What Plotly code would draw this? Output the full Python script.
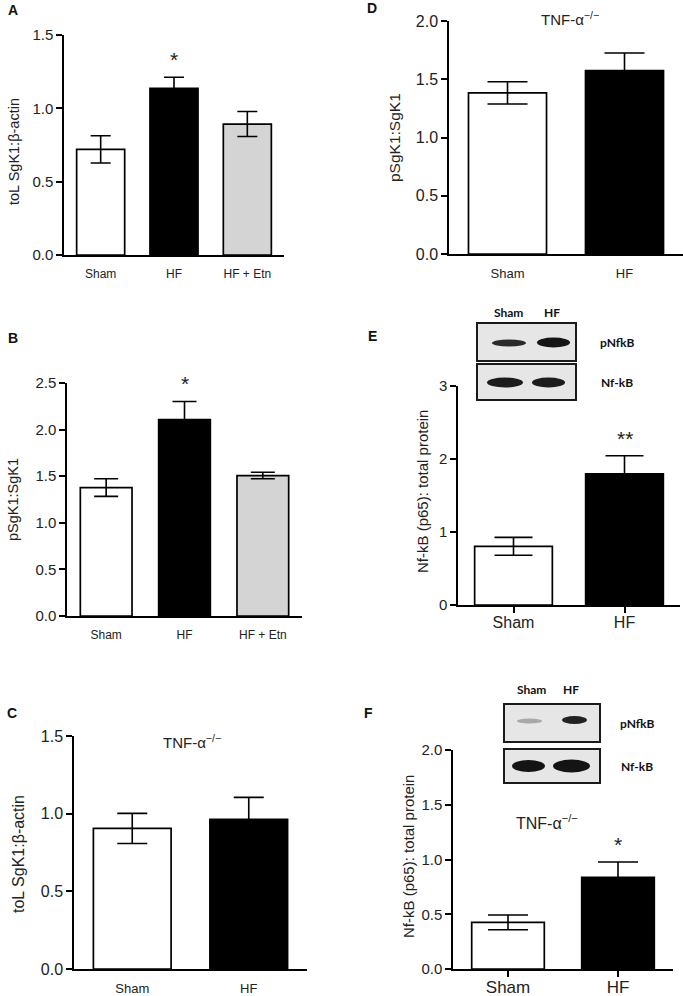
import plotly.graph_objects as go

# ---------------- data ----------------
cats3 = ["Sham", "HF", "HF + Etn"]
cats2 = ["Sham", "HF"]
colors3 = ["white", "black", "#d4d4d4"]
colors2 = ["white", "black"]

a_vals = [0.72, 1.137, 0.893]
a_err = [0.093, 0.075, 0.085]
b_vals = [1.378, 2.107, 1.507]
b_err = [0.095, 0.195, 0.035]
c_vals = [0.905, 0.963]
c_err = [0.097, 0.142]
d_vals = [1.383, 1.575]
d_err = [0.095, 0.15]
e_vals = [0.804, 1.795]
e_err = [0.123, 0.25]
f_vals = [0.426, 0.837]
f_err = [0.067, 0.14]

a_sig = ["", "*", ""]
b_sig = ["", "*", ""]
e_sig = ["", "**"]
f_sig = ["", "*"]

W, H = 683, 996
FONT = "Liberation Sans, Arial, sans-serif"


def px(x):
    return x / W


def py(y):
    return 1 - y / H


# panel geometry in pixels: (x_left, x_right, y_bottom, y_top)
panels = [
    dict(name="A", cats=cats3, vals=a_vals, err=a_err, colors=colors3, sig=a_sig,
         box=(64, 284, 255, 35), rng=1.5, dtick=0.5, fmt=".1f", capw=10, bw=0.655,
         xfs=12, yfs=15, xticks=False, title=None, ttl_pos=None,
         ylab="toL SgK1:β-actin", ylab_pos=(14, 152), ylab_fs=14.5, letter_pos=(13, 10)),
    dict(name="B", cats=cats3, vals=b_vals, err=b_err, colors=colors3, sig=b_sig,
         box=(67, 302, 616, 383), rng=2.5, dtick=0.5, fmt=".1f", capw=12, bw=0.66,
         xfs=12, yfs=15, xticks=False, title=None, ttl_pos=None,
         ylab="pSgK1:SgK1", ylab_pos=(13, 500), ylab_fs=14.5, letter_pos=(13, 338)),
    dict(name="C", cats=cats2, vals=c_vals, err=c_err, colors=colors2, sig=["", ""],
         box=(74, 307, 969, 736), rng=1.5, dtick=0.5, fmt=".1f", capw=15, bw=0.667,
         xfs=13, yfs=16, xticks=False, title="TNF-α<sup>−/−</sup>", ttl_pos=(192, 741), ttl_fs=15,
         ylab="toL SgK1:β-actin", ylab_pos=(18, 854), ylab_fs=16, letter_pos=(12, 713)),
    dict(name="D", cats=cats2, vals=d_vals, err=d_err, colors=colors2, sig=["", ""],
         box=(449, 683, 254, 21), rng=2.0, dtick=0.5, fmt=".1f", capw=20, bw=0.667,
         xfs=13, yfs=16, xticks=False, title="TNF-α<sup>−/−</sup>", ttl_pos=(570, 18), ttl_fs=15,
         ylab="pSgK1:SgK1", ylab_pos=(395, 138), ylab_fs=15.5, letter_pos=(372, 8)),
    dict(name="E", cats=cats2, vals=e_vals, err=e_err, colors=colors2, sig=e_sig,
         box=(458, 680, 605, 386), rng=3.0, dtick=1, fmt="d", capw=19, bw=0.70,
         xfs=16, yfs=15, xticks=True, title=None, ttl_pos=None,
         ylab="Nf-kB (p65): total protein", ylab_pos=(423, 492), ylab_fs=15, letter_pos=(372, 336)),
    dict(name="F", cats=cats2, vals=f_vals, err=f_err, colors=colors2, sig=f_sig,
         box=(453, 673, 969, 750), rng=2.0, dtick=0.5, fmt=".1f", capw=20, bw=0.66,
         xfs=17, yfs=15, xticks=True, title="TNF-α<sup>−/−</sup>", ttl_pos=(547, 822), ttl_fs=16,
         ylab="Nf-kB (p65): total protein", ylab_pos=(408, 857), ylab_fs=15, letter_pos=(368, 713)),
]

fig = go.Figure()
annotations = []
shapes = []


def paper_text(x, y, text, size, family=FONT, color="#222", angle=0):
    annotations.append(dict(x=px(x), y=py(y), xref="paper", yref="paper", text=text,
                            textangle=angle, showarrow=False, xanchor="center",
                            yanchor="middle", font=dict(family=family, size=size, color=color)))


for i, p in enumerate(panels):
    k = "" if i == 0 else str(i + 1)
    xa, ya = "x" + k, "y" + k
    x0, x1, yb, yt = p["box"]
    fig.add_trace(go.Bar(
        x=p["cats"], y=p["vals"], xaxis=xa, yaxis=ya, width=p["bw"],
        marker=dict(color=p["colors"], line=dict(color="black", width=1.7)),
        error_y=dict(type="data", array=p["err"], color="black", thickness=1.6,
                     width=p["capw"], visible=True),
        showlegend=False, hoverinfo="skip",
    ))
    layout_x = dict(
        domain=[px(x0), px(x1)], anchor=ya, range=[-0.5, len(p["cats"]) - 0.5],
        showline=True, linecolor="black", linewidth=1.5, showgrid=False, zeroline=False,
        ticks="outside", ticklen=6 if p["xticks"] else 7,
        tickcolor="black" if p["xticks"] else "rgba(0,0,0,0)", tickwidth=1.5,
        ticklabelstandoff=-4 if p["xticks"] else 0,
        tickfont=dict(family=FONT, size=p["xfs"], color="#222"), fixedrange=True,
        automargin=False,
    )
    layout_y = dict(
        domain=[py(yb), py(yt)], anchor=xa, range=[0, p["rng"]], dtick=p["dtick"],
        tick0=0, tickformat=p["fmt"],
        showline=True, linecolor="black", linewidth=1.5, showgrid=False, zeroline=False,
        ticks="outside", ticklen=6, tickwidth=1.5, tickcolor="black",
        tickfont=dict(family=FONT, size=p["yfs"], color="#222"), fixedrange=True,
        automargin=False,
    )
    fig.update_layout(**{"xaxis" + k: layout_x, "yaxis" + k: layout_y})

    # significance stars
    for c, v, e, s in zip(p["cats"], p["vals"], p["err"], p["sig"]):
        if s:
            annotations.append(dict(x=c, y=v + e, xref=xa, yref=ya, text=s, showarrow=False,
                                    xanchor="center", yanchor="bottom", yshift=4,
                                    font=dict(family=FONT, size=21, color="#222")))
    lx, ly = p["ylab_pos"]
    paper_text(lx, ly, p["ylab"], p["ylab_fs"], angle=-90)
    gx, gy = p["letter_pos"]
    paper_text(gx, gy, "<b>%s</b>" % p["name"], 14, color="#111")
    if p["title"]:
        tx, ty = p["ttl_pos"]
        paper_text(tx, ty, p["title"], p["ttl_fs"])

# ---------------- western blot insets (decorative) ----------------
BLOT_FONT = "Lato, Noto Sans, sans-serif"


def blot(bx0, bx1, row1, row2, lane_x, label_x, head_y, bands):
    for (y0, y1) in (row1, row2):
        shapes.append(dict(type="rect", xref="paper", yref="paper",
                           x0=px(bx0), x1=px(bx1), y0=py(y1), y1=py(y0),
                           fillcolor="#e6e6e6", line=dict(color="#1a1a1a", width=2)))
    for (cx0, cx1, cy, hh, col) in bands:
        shapes.append(dict(type="circle", xref="paper", yref="paper",
                           x0=px(cx0), x1=px(cx1), y0=py(cy + hh / 2), y1=py(cy - hh / 2),
                           fillcolor=col, line=dict(width=0)))
    for t, x in zip(["Sham", "HF"], lane_x):
        paper_text(x, head_y, "<b>%s</b>" % t, 12, family=BLOT_FONT, color="#111")
    for t, (y0, y1) in zip(["pNfkB", "Nf-kB"], (row1, row2)):
        paper_text(label_x, (y0 + y1) / 2, "<b>%s</b>" % t, 12, family=BLOT_FONT, color="#111")


# panel E blot
blot(477, 576, (323, 361), (364, 400), (508, 552), 617, 312,
     [(492, 526, 343, 7, "#2a2a2a"), (537, 570, 342.5, 10, "#151515"),
      (487, 523, 382.5, 10, "#1c1c1c"), (532, 565, 382.5, 10, "#1c1c1c")])
# panel F blot
blot(504, 600, (704, 742), (749, 783), (531, 571), 637, 689,
     [(517, 542, 721, 5, "#a8a8a8"), (562, 587, 720, 8, "#222222"),
      (512, 545, 766, 12, "#141414"), (553, 590, 766, 13, "#141414")])

fig.update_layout(
    width=W, height=H, margin=dict(l=0, r=0, t=0, b=0, autoexpand=False),
    paper_bgcolor="white", plot_bgcolor="white",
    bargap=0.3, annotations=annotations, shapes=shapes,
    font=dict(family=FONT, color="#222"),
)

fig.write_html("out.html", config={"displayModeBar": False},
               post_script="document.body.style.margin='0px';document.body.style.overflow='hidden';")
